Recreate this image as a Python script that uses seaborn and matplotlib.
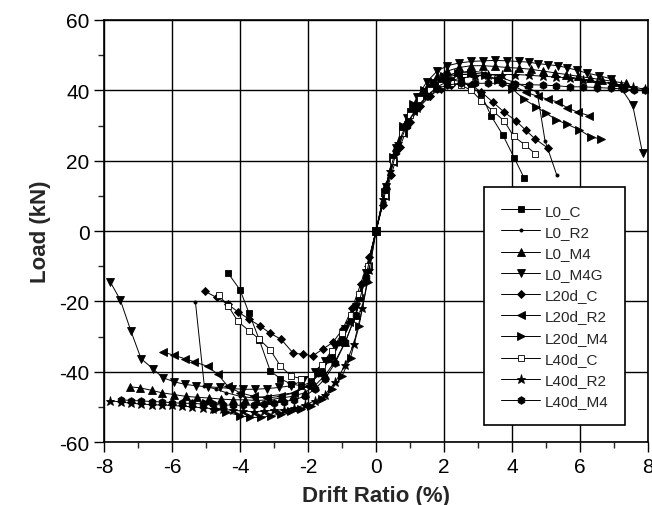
import matplotlib
matplotlib.use("Agg")
import matplotlib.pyplot as plt
import seaborn as sns
from matplotlib.ticker import MultipleLocator

# backbone curves, drift ratio (%) vs load (kN)
L0_C_X = [-4.35, -4.0, -3.74, -3.43, -3.11, -2.81, -2.5, -2.2, -1.9, -1.6, -1.3, -1.0, -0.75, -0.5, -0.25, 0,
          0.25, 0.5, 0.75, 1.0, 1.3, 1.6, 1.9, 2.2, 2.5, 2.8, 3.09, 3.38, 3.73, 4.07, 4.36]
L0_C_Y = [-12, -16.7, -23.2, -31, -39.8, -42, -43.5, -44, -43, -40, -35.5, -30, -25, -19, -11, 0,
          11, 21, 29, 34, 38.5, 41, 42.5, 43, 42.5, 41, 39, 32.8, 27.3, 20.7, 15]

L0_R2_X = [-5.31, -5.05, -4.7, -4.4, -4.0, -3.6, -3.2, -2.8, -2.4, -2.0, -1.7, -1.4, -1.1, -0.8, -0.5, -0.25, 0,
           0.25, 0.5, 0.8, 1.1, 1.4, 1.7, 2.0, 2.4, 2.8, 3.2, 3.6, 4.0, 4.4, 4.74, 4.97, 5.32]
L0_R2_Y = [-20.3, -44, -45, -46, -47, -47.5, -47, -46.5, -46, -44, -41, -37, -32, -26, -19, -10, 0,
           10, 20, 29, 35, 39.5, 42.5, 44, 45, 45.5, 45, 44, 42.5, 41, 39.5, 25.7, 15.8]

L0_M4_X = [-7.24, -6.94, -6.6, -6.3, -5.95, -5.6, -5.25, -4.9, -4.55, -4.2, -3.85, -3.5, -3.15, -2.8, -2.45,
           -2.1, -1.8, -1.5, -1.2, -0.9, -0.6, -0.3, 0,
           0.3, 0.6, 0.9, 1.2, 1.5, 1.8, 2.1, 2.45, 2.8, 3.15, 3.5, 3.85, 4.2, 4.55, 4.9, 5.25, 5.6, 5.95,
           6.3, 6.65, 7.0, 7.35]
L0_M4_Y = [-44.3, -44.6, -45.3, -46, -46.5, -47, -47.3, -47.5, -47.8, -48, -48, -48.2, -48, -47.5, -47,
           -46, -44, -41, -37, -31.5, -24, -13, 0,
           13, 24, 31.5, 37, 41, 44, 45.5, 46.5, 47, 47, 46.8, 46.5, 46.3, 46, 45.5, 45, 44.5, 44,
           43.5, 43, 42.5, 42]

L0_M4G_X = [-7.82, -7.52, -7.21, -6.91, -6.57, -6.27, -5.93, -5.62, -5.3, -4.95, -4.6, -4.25, -3.9, -3.55,
            -3.2, -2.85, -2.5, -2.15, -1.8, -1.5, -1.2, -0.9, -0.6, -0.3, 0,
            0.3, 0.6, 0.9, 1.2, 1.5, 1.8, 2.1, 2.45, 2.8, 3.15, 3.5, 3.85, 4.2, 4.5, 4.76, 5.05, 5.34,
            5.63, 5.92, 6.2, 6.55, 6.9, 7.2, 7.55, 7.84]
L0_M4G_Y = [-14.4, -19.6, -28.4, -36.3, -39.1, -41.7, -42.9, -43.6, -44, -44.3, -44.5, -44.8, -45, -45,
            -44.8, -44.5, -44, -42.5, -40, -37, -33, -28, -21.5, -12, 0,
            12.5, 23.5, 32, 38, 42.5, 45.5, 47, 47.8, 48.2, 48.4, 48.5, 48.4, 48.2, 48, 47.6, 47.3, 47,
            46.4, 45.7, 44.9, 44.2, 43.3, 40.7, 35.7, 22.1]

L20D_C_X = [-5.02, -4.69, -4.36, -4.07, -3.73, -3.41, -3.11, -2.79, -2.43, -2.16, -1.86, -1.57, -1.27,
            -0.98, -0.7, -0.45, -0.2, 0,
            0.2, 0.45, 0.7, 1.0, 1.3, 1.6, 1.9, 2.2, 2.5, 2.8, 3.1, 3.43, 3.77, 4.12, 4.41, 4.68, 5.05]
L20D_C_Y = [-17.2, -18.9, -20.8, -22.9, -25.1, -27, -29.1, -30.8, -34.8, -35, -35.5, -33.6, -31.7,
            -27.9, -22, -15, -7.5, 0,
            7.5, 16, 24, 31, 35.5, 38.5, 40.5, 41.5, 42, 41.5, 39.5, 36.7, 33.8, 31.3, 28.6, 26.2, 23.6]

L20D_R2_X = [-6.27, -5.95, -5.63, -5.34, -4.95, -4.66, -4.36, -4.0, -3.6, -3.2, -2.8, -2.4, -2.0, -1.7,
             -1.4, -1.1, -0.8, -0.5, -0.25, 0,
             0.25, 0.5, 0.8, 1.1, 1.4, 1.7, 2.0, 2.4, 2.8, 3.2, 3.6, 4.0, 4.4, 4.75, 5.05, 5.34, 5.63,
             5.93, 6.27]
L20D_R2_Y = [-34.4, -35.3, -36.3, -37.2, -38.5, -40.7, -44.1, -46, -47, -47.5, -47, -46, -44, -40.5,
             -36.5, -31.5, -26, -19, -10, 0,
             10, 19.5, 28, 34, 38.5, 41.5, 43.5, 44.5, 44.5, 44, 43, 41.5, 39.5, 38.3, 37.5, 36.7, 35,
             33.8, 32.8]

L20D_M4_X = [-5.0, -4.7, -4.4, -4.0, -3.7, -3.38, -3.1, -2.8, -2.5, -2.21, -1.92, -1.6, -1.3, -1.0,
             -0.75, -0.5, -0.25, 0,
             0.25, 0.5, 0.8, 1.1, 1.4, 1.7, 2.0, 2.4, 2.8, 3.2, 3.6, 4.0, 4.36, 4.7, 5.0, 5.29, 5.63,
             5.98, 6.32, 6.62]
L20D_M4_Y = [-49, -50.5, -51.5, -52.5, -53, -53, -52.6, -52, -51.2, -50.7, -49.8, -47.8, -45, -41.2,
             -36, -27, -14.5, 0,
             11, 21, 30, 36, 40, 42.5, 44, 45, 45, 44.5, 43, 40.5, 37.4, 35.4, 33.5, 31.7, 30.3,
             28.8, 26.7, 26.2]

L40D_C_X = [-4.63, -4.35, -4.06, -3.73, -3.43, -3.11, -2.81, -2.5, -2.2, -1.9, -1.6, -1.3, -1.0, -0.75,
            -0.5, -0.25, 0,
            0.25, 0.5, 0.75, 1.0, 1.3, 1.6, 1.9, 2.2, 2.5, 2.8, 3.1, 3.45, 3.77, 4.05, 4.38, 4.69]
L40D_C_Y = [-18.2, -21.3, -25.7, -28.4, -30.8, -33.8, -38.4, -41.2, -42, -41, -38, -34, -29, -24,
            -18, -10, 0,
            10, 20, 28, 33, 37.5, 40, 41.5, 42, 41.5, 40, 37, 34, 31.3, 26.9, 24.5, 21.9]

L40D_R2_X = [-7.82, -7.5, -7.2, -6.9, -6.6, -6.3, -6.0, -5.7, -5.4, -5.1, -4.8, -4.5, -4.2, -3.9, -3.6,
             -3.3, -3.0, -2.7, -2.4, -2.1, -1.8, -1.5, -1.2, -0.9, -0.65, -0.4, -0.2, 0,
             0.2, 0.4, 0.65, 0.9, 1.2, 1.5, 1.8, 2.1, 2.5, 2.9, 3.3, 3.7, 4.1, 4.5, 4.9, 5.3, 5.7,
             6.1, 6.5, 6.9, 7.2, 7.55, 7.9]
L40D_R2_Y = [-48.3, -48.6, -49, -49.2, -49.4, -49.5, -49.6, -49.8, -50, -50.3, -50.5, -50.7, -51, -51.2,
             -51.4, -51.2, -51, -50.8, -50.3, -49.5, -48.3, -46.5, -43, -38, -32, -22, -11, 0,
             9, 17, 25, 30.5, 35, 38.5, 41, 42.5, 43.5, 44, 44.5, 44.5, 44.5, 44.3, 44, 43.8, 43.5,
             43, 42.5, 42, 41.5, 41, 40.3]

L40D_M4_X = [-7.5, -7.2, -6.9, -6.6, -6.3, -6.0, -5.7, -5.4, -5.1, -4.8, -4.5, -4.2, -3.9, -3.6, -3.3,
             -3.0, -2.7, -2.4, -2.1, -1.8, -1.5, -1.2, -0.9, -0.6, -0.3, 0,
             0.3, 0.6, 0.9, 1.2, 1.5, 1.8, 2.1, 2.5, 2.9, 3.3, 3.7, 4.1, 4.5, 4.9, 5.3, 5.7, 6.1, 6.5,
             6.9, 7.3, 7.6, 7.9]
L40D_M4_Y = [-48, -48.2, -48.3, -48.5, -48.6, -48.8, -49, -49, -49.2, -49.3, -49.5, -49.5, -49.6, -49.5,
             -49.3, -49, -48.5, -48, -47, -45, -42, -37.5, -31.5, -24, -13, 0,
             12, 22.5, 30, 35, 38.5, 40.5, 41.5, 42, 42, 42, 42, 41.8, 41.6, 41.5, 41.3, 41, 41, 40.8,
             40.6, 40.4, 40.2, 40]

# name, x, y, marker, face colour, marker size
series = [
    ("L0_C", L0_C_X, L0_C_Y, "s", "black", 4.5),
    ("L0_R2", L0_R2_X, L0_R2_Y, ".", "black", 4.5),
    ("L0_M4", L0_M4_X, L0_M4_Y, "^", "black", 5.5),
    ("L0_M4G", L0_M4G_X, L0_M4G_Y, "v", "black", 5.5),
    ("L20d_C", L20D_C_X, L20D_C_Y, "D", "black", 4.5),
    ("L20d_R2", L20D_R2_X, L20D_R2_Y, "<", "black", 5.5),
    ("L20d_M4", L20D_M4_X, L20D_M4_Y, ">", "black", 5.5),
    ("L40d_C", L40D_C_X, L40D_C_Y, "s", "white", 4.5),
    ("L40d_R2", L40D_R2_X, L40D_R2_Y, "*", "black", 6.5),
    ("L40d_M4", L40D_M4_X, L40D_M4_Y, "h", "black", 5.5),
]

sns.set_style("ticks")
plt.rcParams['font.family'] = ['Liberation Sans', 'DejaVu Sans']
plt.rcParams['axes.unicode_minus'] = False

fig = plt.figure(figsize=(6.52, 5.06), dpi=100)
ax = fig.add_axes([0.1595, 0.1245, 0.8344, 0.834])

for name, xs, ys, mk, fc, ms in series:
    sns.lineplot(x=xs, y=ys, ax=ax, sort=False, estimator=None, color="black",
                 marker=mk, markersize=ms, markerfacecolor=fc, markeredgecolor="black",
                 markeredgewidth=0.6, linewidth=0.7, label=name)

ax.set_xlim(-8, 8)
ax.set_ylim(-60, 60)
ax.xaxis.set_major_locator(MultipleLocator(2))
ax.xaxis.set_minor_locator(MultipleLocator(1))
ax.yaxis.set_major_locator(MultipleLocator(20))
ax.yaxis.set_minor_locator(MultipleLocator(10))
ax.grid(which="major", color="black", linewidth=1.0)
for s in ax.spines.values():
    s.set_color("black")
    s.set_linewidth(1.2)
ax.tick_params(which="major", direction="out", length=7, width=1.0, labelsize=15, colors="black")
ax.tick_params(which="minor", direction="out", length=4, width=1.0)

ax.set_xlabel("Drift Ratio (%)", fontsize=16, fontweight="bold", labelpad=7)
ax.set_ylabel("Load (kN)", fontsize=16, fontweight="bold", labelpad=6)

leg = ax.legend(loc="upper left", bbox_to_anchor=(0.699, 0.604), borderaxespad=0,
                frameon=True, fancybox=False, edgecolor="black", framealpha=1,
                fontsize=11, handlelength=2.6, handletextpad=0.3, labelspacing=0.47,
                borderpad=1.08)
leg.get_frame().set_linewidth(1.2)

fig.savefig("out.png", dpi=100)
